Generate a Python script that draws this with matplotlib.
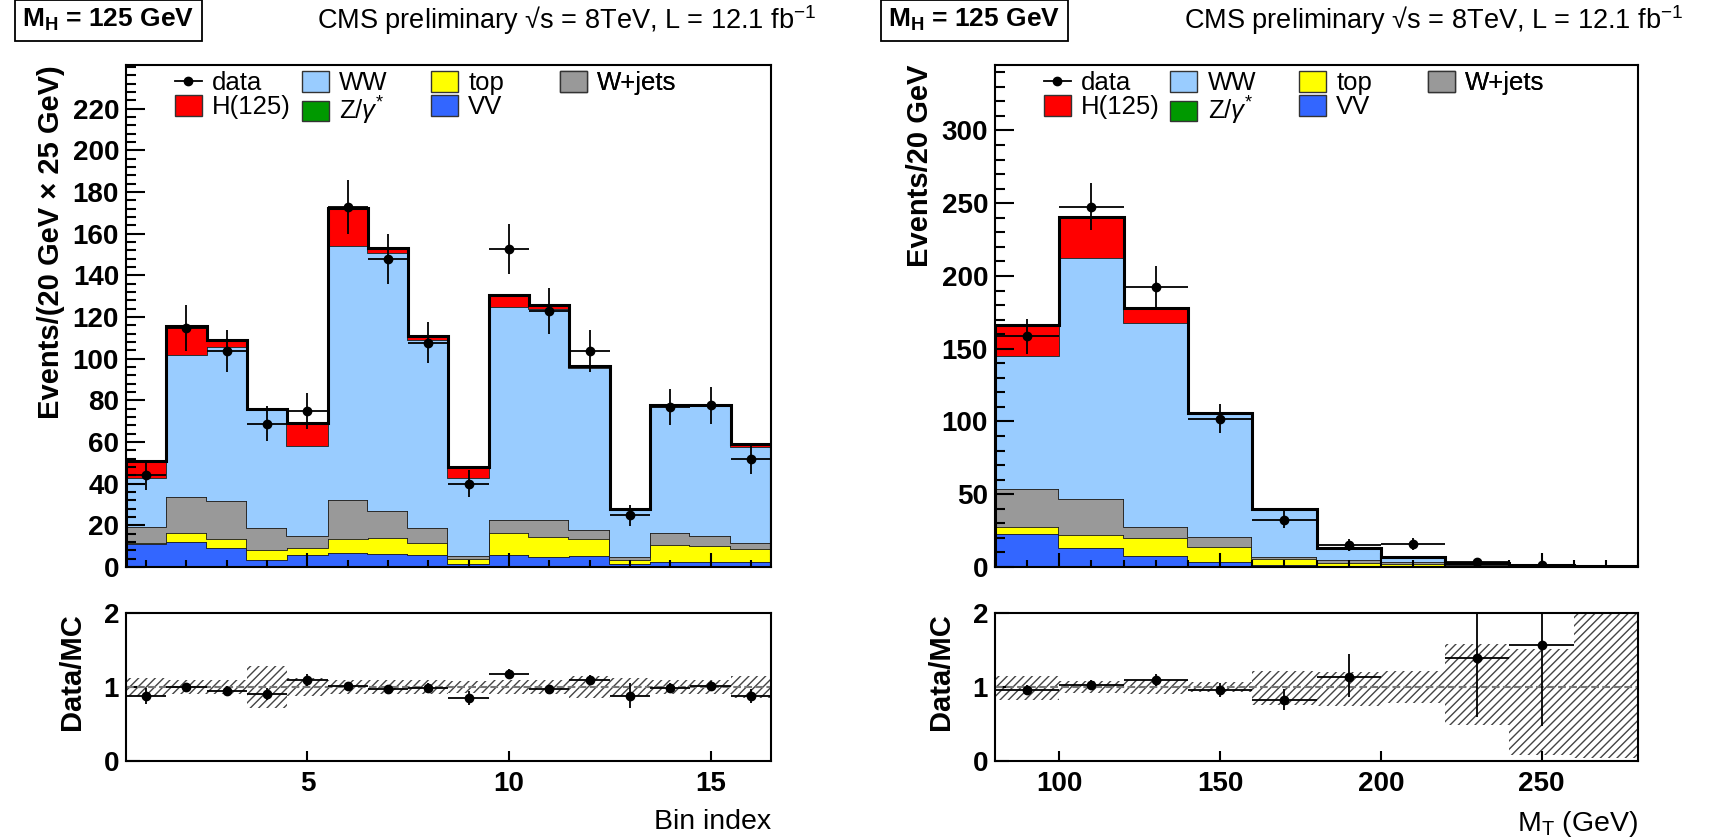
import matplotlib
matplotlib.use("Agg")
import matplotlib.pyplot as plt
import numpy as np
from matplotlib.lines import Line2D
from matplotlib.patches import Patch
from matplotlib.ticker import FixedLocator, MultipleLocator

plt.rcParams['font.family'] = ['Liberation Sans', 'DejaVu Sans']
plt.rcParams['mathtext.fontset'] = 'custom'
plt.rcParams['mathtext.rm'] = 'Liberation Sans'
plt.rcParams['mathtext.it'] = 'Liberation Sans:italic'
plt.rcParams['mathtext.bf'] = 'Liberation Sans:bold'
plt.rcParams['hatch.linewidth'] = 1.0

# ---------------- left panel: bin index ----------------
edges_l = np.arange(0.5, 17.0, 1.0)
zg_l = [0.3, 0.4, 0.5, 0.2, 0.3, 0.6, 0.6, 0.3, 0.2, 0.3, 0.3, 0.3, 0.1, 0.2, 0.2, 0.2]
vv_l = [10.6, 11.6, 8.8, 3.3, 5.7, 6.1, 5.8, 5.3, 1.4, 5.3, 4.5, 4.8, 1.2, 2.2, 2.2, 2.2]
top_l = [0.6, 4.3, 4.3, 4.5, 3.3, 6.9, 7.5, 6.1, 2.4, 10.7, 9.6, 8.2, 2.2, 8.0, 7.5, 6.4]
wjets_l = [7.7, 17.3, 18.1, 10.7, 5.4, 18.4, 13.0, 7.0, 1.1, 6.1, 8.0, 4.3, 1.3, 5.9, 4.8, 2.7]
ww_l = [23.7, 68.0, 73.9, 56.8, 43.4, 121.9, 124.0, 90.4, 37.8, 102.4, 101.6, 77.9, 22.7, 61.3, 62.9, 46.1]
h_l = [7.8, 14.2, 3.2, 0.5, 11.0, 18.6, 2.4, 1.6, 5.1, 5.9, 1.6, 0.8, 0.5, 0.4, 0.4, 1.3]
data_l = [44, 114.7, 103.7, 68.8, 74.9, 172.8, 147.7, 107.7, 40, 152.8, 122.9, 103.7, 24.8, 76.8, 77.6, 52]
derr_l = [7, 11, 10, 8.5, 8.5, 13, 12, 10, 6.4, 12, 11, 10, 5, 8.8, 8.8, 7.2]
ratio_l = [0.88, 1.0, 0.95, 0.9, 1.09, 1.01, 0.97, 0.99, 0.85, 1.18, 0.97, 1.1, 0.88, 0.99, 1.01, 0.88]
rerr_l = [0.11, 0.06, 0.06, 0.08, 0.08, 0.05, 0.05, 0.06, 0.09, 0.06, 0.05, 0.06, 0.17, 0.07, 0.07, 0.09]
band_l = [0.12, 0.1, 0.1, 0.29, 0.12, 0.1, 0.1, 0.1, 0.08, 0.1, 0.1, 0.15, 0.12, 0.1, 0.1, 0.15]

# ---------------- right panel: M_T ----------------
edges_r = np.arange(80, 281, 20)
zg_r = [0.8, 0.5, 0.3, 0.2, 0.1, 0.1, 0.05, 0.02, 0.01, 0.01]
vv_r = [22.1, 12.8, 7.0, 3.2, 1.0, 0.6, 0.35, 0.18, 0.09, 0.04]
top_r = [4.6, 8.5, 12.9, 10.4, 4.6, 2.1, 1.4, 0.6, 0.2, 0.05]
wjets_r = [26.4, 25.2, 7.3, 6.8, 1.2, 1.8, 1.6, 0.4, 0.2, 0.1]
ww_r = [91.1, 165.2, 139.9, 84.4, 32.5, 8.0, 3.0, 1.4, 0.5, 0.25]
h_r = [21.0, 28.6, 10.4, 1.0, 0.7, 0.7, 0.5, 0.2, 0.1, 0.05]
data_r = [158.7, 247.7, 192.7, 102, 32.6, 14.9, 15.6, 3.4, 1.7, np.nan]
derr_r = [12, 16, 14, 10, 6, 4, 4, 1.8, 1.3, np.nan]
# bin 7 ratio (about 2.3) lies above the ratio range and is not drawn
ratio_r = [0.96, 1.03, 1.1, 0.96, 0.82, 1.14, np.nan, 1.39, 1.57, np.nan]
rlo_r = [0.07, 0.07, 0.08, 0.09, 0.13, 0.28, np.nan, 0.79, 1.1, np.nan]
rhi_r = [0.07, 0.07, 0.08, 0.09, 0.15, 0.3, np.nan, 0.9, 1.2, np.nan]
band_lo_r = [0.83, 0.92, 0.9, 0.93, 0.76, 0.74, 0.78, 0.48, 0.08, 0.04]
band_hi_r = [1.15, 1.08, 1.1, 1.07, 1.21, 1.2, 1.22, 1.58, 1.51, 2.0]

colors = {'Z': '#009900', 'VV': '#3366ff', 'top': '#ffff00',
          'W+jets': '#999999', 'WW': '#99ccff', 'H': '#ff0000'}

fig = plt.figure(figsize=(17.15, 8.4), dpi=100)
W, H = 1715, 840


def px_axes(x0, y0, x1, y1):
    return fig.add_axes([x0 / W, 1 - y1 / H, (x1 - x0) / W, (y1 - y0) / H])


def draw_stack(ax, edges, comps):
    base = np.zeros(len(edges) - 1)
    for vals, key in comps:
        top = base + np.asarray(vals)
        ax.stairs(top, edges, baseline=base, fill=True, color=colors[key], lw=0)
        ax.stairs(top, edges, color='#222222', lw=1.3)
        base = top
    ax.stairs(base, edges, color='k', lw=2.2)
    return base


def style(ax):
    for s in ax.spines.values():
        s.set_linewidth(1.5)
    ax.tick_params(which='both', direction='in', top=False, right=False, width=1.5)


def panel(x0, x1, edges, comps, data, derr, ratio, rlo, rhi, blo, bhi,
          ylim, yticks, yminor, xmajor, xminor, ylabel, xlabel):
    ax = px_axes(x0, 65, x1, 567)
    rax = px_axes(x0, 613, x1, 761)
    centers = 0.5 * (edges[:-1] + edges[1:])
    halfw = 0.5 * np.diff(edges)
    draw_stack(ax, edges, comps)
    ax.errorbar(centers, data, yerr=derr, xerr=halfw, fmt='o', color='k',
                ms=6, elinewidth=1.3, capsize=0)
    ax.set_xlim(edges[0], edges[-1])
    ax.set_ylim(0, ylim)
    ax.yaxis.set_major_locator(FixedLocator(yticks))
    ax.yaxis.set_minor_locator(MultipleLocator(yminor))
    ax.xaxis.set_major_locator(MultipleLocator(xmajor))
    ax.xaxis.set_minor_locator(MultipleLocator(xminor))
    style(ax)
    ax.tick_params(axis='y', which='major', length=14, labelsize=20, pad=5)
    ax.tick_params(axis='y', which='minor', length=7)
    ax.tick_params(axis='x', which='major', length=10, labelbottom=False)
    ax.tick_params(axis='x', which='minor', length=5)
    for t in ax.get_yticklabels():
        t.set_fontweight('bold')
    ax.set_ylabel(ylabel, loc='top', fontsize=21, fontweight='bold')
    ax.yaxis.set_label_coords(-0.095, 1.0)

    # ratio panel
    rax.stairs(bhi, edges, baseline=blo, fill=True, facecolor='none',
               edgecolor='#444444', hatch='////', lw=0)
    rax.axhline(1.0, color='#777777', ls='--', lw=1.5)
    rax.errorbar(centers, ratio, yerr=[rlo, rhi], xerr=halfw, fmt='o',
                 color='k', ms=6, elinewidth=1.3, capsize=0)
    rax.set_xlim(edges[0], edges[-1])
    rax.set_ylim(0, 2)
    rax.yaxis.set_major_locator(FixedLocator([0, 1, 2]))
    rax.xaxis.set_major_locator(MultipleLocator(xmajor))
    style(rax)
    rax.tick_params(axis='y', length=10, labelsize=20, pad=5)
    rax.tick_params(axis='x', length=7, labelsize=20, pad=7)
    for t in rax.get_yticklabels() + rax.get_xticklabels():
        t.set_fontweight('bold')
    rax.set_ylabel('Data/MC', loc='top', fontsize=21, fontweight='bold')
    rax.yaxis.set_label_coords(-0.062, 1.0)
    rax.set_xlabel(xlabel, loc='right', fontsize=20.5)
    rax.xaxis.set_label_coords(1.0, -0.325)
    return ax


comps_l = [(zg_l, 'Z'), (vv_l, 'VV'), (top_l, 'top'), (wjets_l, 'W+jets'), (ww_l, 'WW'), (h_l, 'H')]
comps_r = [(zg_r, 'Z'), (vv_r, 'VV'), (top_r, 'top'), (wjets_r, 'W+jets'), (ww_r, 'WW'), (h_r, 'H')]

axl = panel(126, 771, edges_l, comps_l, data_l, derr_l, ratio_l, rerr_l, rerr_l,
            1 - np.array(band_l), 1 + np.array(band_l),
            241, np.arange(0, 221, 20), 4, 5, 1,
            u'Events/(20 GeV \u00d7 25 GeV)', 'Bin index')
axr = panel(995, 1638, edges_r, comps_r, data_r, derr_r, ratio_r, rlo_r, rhi_r,
            band_lo_r, band_hi_r,
            345, np.arange(0, 301, 50), 10, 50, 10,
            'Events/20 GeV', r'M$_\mathrm{T}$ (GeV)')

# legends, one per column
legend_cols = [
    [(Line2D([], [], color='k', marker='o', ms=6, lw=1.3), 'data'),
     (Patch(facecolor=colors['H'], edgecolor='#333333'), 'H(125)')],
    [(Patch(facecolor=colors['WW'], edgecolor='#333333'), 'WW'),
     (Patch(facecolor=colors['Z'], edgecolor='#333333'), r'Z/$\gamma^{*}$')],
    [(Patch(facecolor=colors['top'], edgecolor='#333333'), 'top'),
     (Patch(facecolor=colors['VV'], edgecolor='#333333'), 'VV')],
    [(Patch(facecolor=colors['W+jets'], edgecolor='#333333'), 'W+jets')],
]
col_x = [175, 302, 431, 560]
for ax in (axl, axr):
    for cx, entries in zip(col_x, legend_cols):
        leg = ax.legend([e[0] for e in entries], [e[1] for e in entries],
                        loc='upper left', bbox_to_anchor=((cx - 126) / 645, 0.988),
                        frameon=False, fontsize=18.5, borderpad=0, borderaxespad=0,
                        handlelength=1.05, handleheight=0.85, handletextpad=0.4,
                        labelspacing=0.0)
        ax.add_artist(leg)

# header texts
for bx, tx in ((0.063, 0.3306), (0.568, 0.836)):
    fig.text(bx, 0.976, r'M$_\mathbf{H}$ = 125 GeV', fontsize=19, fontweight='bold',
             ha='center', va='center',
             bbox=dict(boxstyle='square,pad=0.28', facecolor='white', edgecolor='k', lw=1.3))
    fig.text(tx, 0.976, u'CMS preliminary \u221as = 8TeV, L = 12.1 fb$^{-1}$',
             fontsize=19.5, ha='center', va='center')

fig.savefig('out.png', dpi=100)
